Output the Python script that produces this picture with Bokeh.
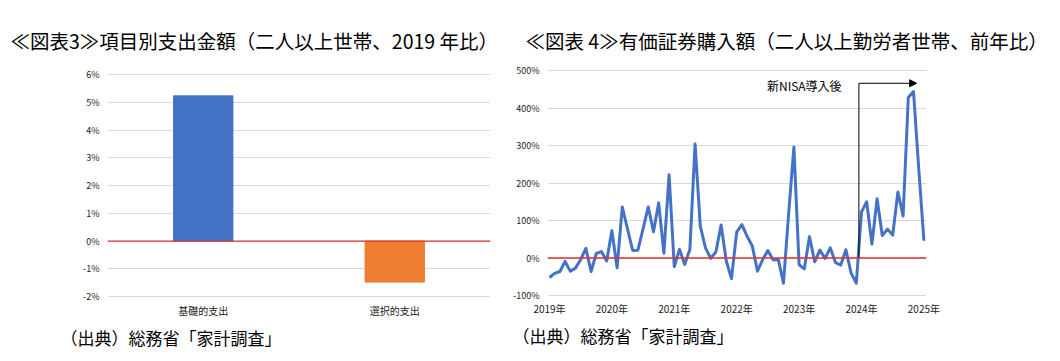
from bokeh.plotting import figure
from bokeh.layouts import row
from bokeh.models import (FactorRange, Range1d, FixedTicker, PrintfTickFormatter,
                          Label, Arrow, NormalHead, Span, ColumnDataSource, Title)
from bokeh.embed import file_html
from bokeh.resources import INLINE

FONT = "Noto Sans CJK JP"
TXT = "#1a1a1a"

left_title = "≪図表3≫項目別支出金額（二人以上世帯、2019 年比）"
right_title = "≪図表 4≫有価証券購入額（二人以上勤労者世帯、前年比）"
source_text = "（出典）総務省「家計調査」"

# Left chart data
categories = ["基礎的支出", "選択的支出"]
spending_change = [5.24, -1.48]
bar_colors = ["#4472C4", "#ED7D31"]
left_ticks = [-2, -1, 0, 1, 2, 3, 4, 5, 6]

# Right chart data (monthly, Jan 2019 - Jan 2025)
securities_yoy = [
    -52, -41, -36, -9, -35, -27, -4, 26, -36, 12, 17, -8,
    73, -26, 136, 78, 20, 21, 78, 136, 70, 147, 13, 222,
    -23, 23, -17, 23, 304, 85, 27, -1, 16, 88, -8, -55,
    69, 89, 58, 32, -35, -4, 20, -5, -4, -67, 120, 296,
    -18, -29, 57, -10, 21, -1, 27, -12, -19, 22, -40, -67,
    123, 150, 37, 158, 60, 77, 61, 176, 112, 428, 444, 240,
    46,
]
month_index = list(range(len(securities_yoy)))
year_ticks = [0, 12, 24, 36, 48, 60, 72]
year_labels = ["2019年", "2020年", "2021年", "2022年", "2023年", "2024年", "2025年"]
right_ticks = [-100, 0, 100, 200, 300, 400, 500]
nisa_label = "新NISA導入後"
nisa_start = 59.5
nisa_arrow_end = 70.6
nisa_level = 466
nisa_label_x = 49
nisa_label_y = 459

H = 361
TOP = 66
BOTTOM = 61


def style_axes(p, xsize, ysize, xstand, ystand):
    for ax in (p.xaxis, p.yaxis):
        ax.axis_line_color = None
        ax.major_tick_line_color = None
        ax.minor_tick_line_color = None
        ax.major_tick_out = 0
        ax.major_label_text_font = FONT
        ax.major_label_text_color = TXT
    p.xaxis.major_label_text_font_size = xsize
    p.yaxis.major_label_text_font_size = ysize
    p.xaxis.major_label_standoff = xstand
    p.yaxis.major_label_standoff = ystand
    p.xgrid.visible = False
    p.ygrid.grid_line_color = "#d9d9d9"
    p.ygrid.grid_line_width = 1
    p.outline_line_color = None


def heading(p, offset, text):
    p.add_layout(Title(text=text, align="left", offset=offset, text_font=FONT,
                       text_font_size="19.5px", text_font_style="normal",
                       text_color="#000", standoff=24), "above")


def source(p, offset):
    p.add_layout(Title(text=source_text, align="left", offset=offset, text_font=FONT,
                       text_font_size="17px", text_font_style="normal",
                       text_color="#000", standoff=5), "below")


# ---------------- Left figure ----------------
p1 = figure(width=505, height=H, x_range=FactorRange(*categories),
            y_range=Range1d(-2.144, 6.30), output_backend="svg",
            toolbar_location=None, min_border_left=107, min_border_right=15,
            min_border_top=TOP, min_border_bottom=BOTTOM)
src1 = ColumnDataSource(dict(cat=categories, val=spending_change, color=bar_colors))
p1.vbar(x="cat", top="val", width=0.31, color="color", source=src1)
p1.add_layout(Span(location=0, dimension="width", line_color="#e03030", line_width=1.3))
p1.yaxis.ticker = FixedTicker(ticks=left_ticks)
p1.yaxis.formatter = PrintfTickFormatter(format="%d%%")
style_axes(p1, "10px", "9px", 2, 8)
heading(p1, 10 - 107, left_title)
source(p1, 60 - 107)

# ---------------- Right figure ----------------
p2 = figure(width=555, height=H, x_range=Range1d(-0.38, 72.5),
            y_range=Range1d(-113.3, 510.7), output_backend="svg",
            toolbar_location=None, min_border_left=42, min_border_right=134,
            min_border_top=TOP, min_border_bottom=BOTTOM)
p2.add_layout(Span(location=0, dimension="width", line_color="#e03030", line_width=1.3))
p2.line(month_index, securities_yoy, line_color="#4472C4", line_width=3,
        line_join="round")
p2.segment(x0=[nisa_start], y0=[0], x1=[nisa_start], y1=[nisa_level],
           line_color="#000", line_width=1)
p2.add_layout(Arrow(x_start=nisa_start, y_start=nisa_level, x_end=nisa_arrow_end,
                    y_end=nisa_level, line_color="#000", line_width=1,
                    end=NormalHead(size=7, fill_color="#000", line_color="#000")))
p2.add_layout(Label(x=nisa_label_x, y=nisa_label_y, text=nisa_label, text_font=FONT,
                    text_font_size="12px", text_color="#000",
                    text_baseline="middle", text_align="center"))
p2.xaxis.ticker = FixedTicker(ticks=year_ticks)
p2.xaxis.major_label_overrides = {t: l for t, l in zip(year_ticks, year_labels)}
p2.yaxis.ticker = FixedTicker(ticks=right_ticks)
p2.yaxis.formatter = PrintfTickFormatter(format="%d%%")
style_axes(p2, "10px", "9px", 0, 8)
heading(p2, 525 - 547, right_title)
source(p2, 512 - 547)

layout = row(p1, p2)
open("out.html", "w").write(file_html(layout, INLINE))
